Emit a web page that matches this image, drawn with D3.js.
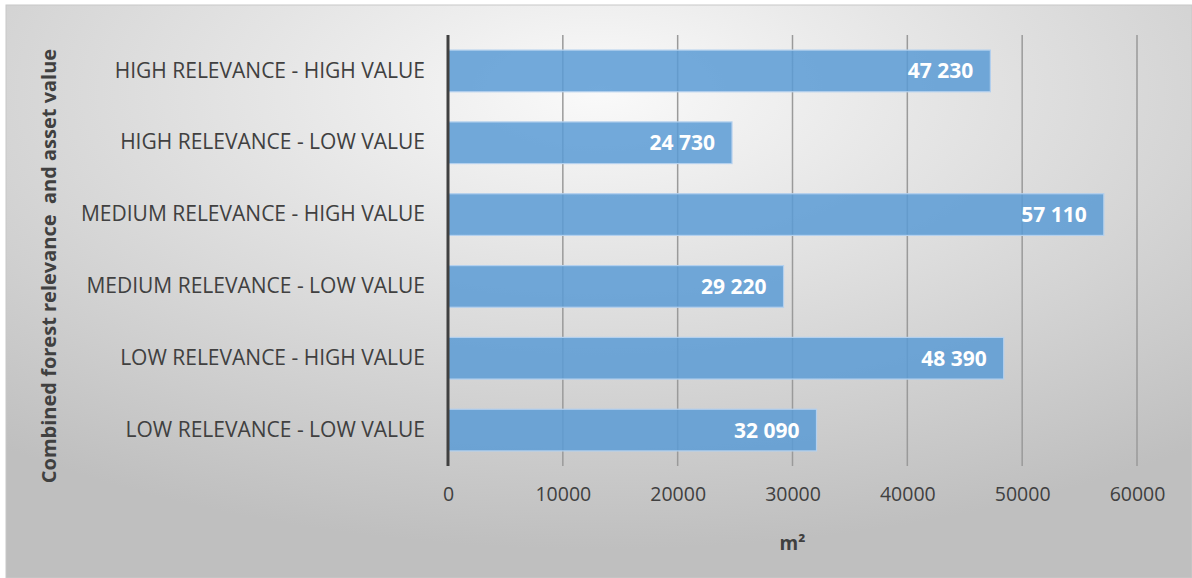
<!DOCTYPE html>
<html><head><meta charset="utf-8">
<script src="https://cdn.jsdelivr.net/npm/d3@7"></script>
<style>html,body{margin:0;padding:0;background:#fff}svg{display:block}text{font-family:"Open Sans",sans-serif}</style>
</head><body>
<script>
const categories = ["HIGH RELEVANCE - HIGH VALUE","HIGH RELEVANCE - LOW VALUE","MEDIUM RELEVANCE - HIGH VALUE","MEDIUM RELEVANCE - LOW VALUE","LOW RELEVANCE - HIGH VALUE","LOW RELEVANCE - LOW VALUE"];
const values = [47230, 24730, 57110, 29220, 48390, 32090];
const valueLabels = ["47 230","24 730","57 110","29 220","48 390","32 090"];
const xTicks = [0,10000,20000,30000,40000,50000,60000];
const xTitle = "m²";
const yTitle = "Combined forest relevance  and asset value";

(function(){
const W = 1192, H = 578;
const svg = d3.select("body").append("svg").attr("width", W).attr("height", H);
const defs = svg.append("defs");
const grad = defs.append("radialGradient").attr("id","bg").attr("cx","50%").attr("cy","15%").attr("r","80%");
grad.append("stop").attr("offset","0%").attr("stop-color","#fafafa");
grad.append("stop").attr("offset","100%").attr("stop-color","#bfbfbf");
svg.append("rect").attr("x",6).attr("y",5).attr("width",W-6).attr("height",H-5).attr("fill","url(#bg)").attr("stroke","#c8c8c8");

const pL = 448, pR = 1137, pT = 35, pB = 466;
const x = d3.scaleLinear().domain([0,60000]).range([pL,pR]);
const y = d3.scaleBand().domain(categories).range([pT,pB]).paddingInner(0.42).paddingOuter(0.21);

svg.append("g").selectAll("line").data(xTicks.slice(1)).join("line")
  .attr("x1",d=>x(d)).attr("x2",d=>x(d)).attr("y1",pT).attr("y2",pB)
  .attr("stroke","#9a9a9a").attr("stroke-width",1.5);

svg.append("g").selectAll("rect").data(values).join("rect")
  .attr("x",x(0)).attr("y",(d,i)=>y(categories[i])).attr("width",d=>x(d)-x(0)).attr("height",y.bandwidth())
  .attr("fill","#5b9bd5").attr("fill-opacity",0.85).attr("stroke","#b4d0ee").attr("stroke-width",1.2);

svg.append("g").selectAll("text").data(values).join("text")
  .attr("x",d=>x(d)-17).attr("y",(d,i)=>y(categories[i])+y.bandwidth()/2).attr("dy","0.36em")
  .attr("text-anchor","end").attr("fill","#fff").attr("font-weight","bold").attr("font-size","21px")
  .text((d,i)=>valueLabels[i]);

svg.append("line").attr("x1",pL).attr("x2",pL).attr("y1",pT).attr("y2",pB).attr("stroke","#404040").attr("stroke-width",3);

const yAxis = d3.axisLeft(y).tickSize(0).tickPadding(23);
const gy = svg.append("g").attr("transform",`translate(${pL},0)`).call(yAxis);
gy.select(".domain").remove();
gy.selectAll("text").attr("font-size","21px").attr("fill","#404040").style("font-family","'Open Sans',sans-serif");

const xAxis = d3.axisBottom(x).tickValues(xTicks).tickFormat(d3.format("d")).tickSize(0).tickPadding(21);
const gx = svg.append("g").attr("transform",`translate(0,${pB})`).call(xAxis);
gx.select(".domain").remove();
gx.selectAll("text").attr("font-size","19.5px").attr("fill","#404040").style("font-family","'Open Sans',sans-serif");

svg.append("text").attr("x",(pL+pR)/2).attr("y",550).attr("text-anchor","middle").attr("font-weight","bold").attr("font-size","19px").attr("fill","#404040").text(xTitle);
svg.append("text").attr("transform","translate(56,266) rotate(-90)").attr("text-anchor","middle").attr("font-weight","bold").attr("font-size","20px").attr("fill","#404040").style("white-space","pre").text(yTitle);
})();
</script>
</body></html>
